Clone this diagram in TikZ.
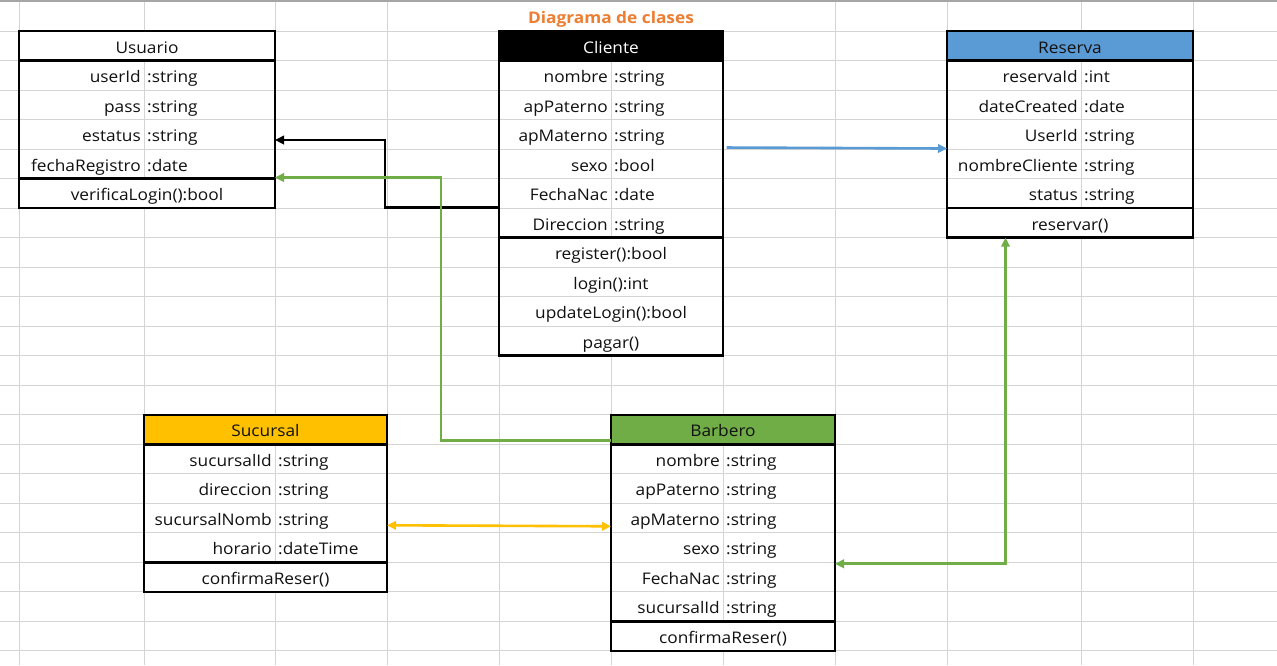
\documentclass[tikz,border=0pt]{standalone}
\usepackage{fontspec}
\setmainfont{Open Sans}[FakeStretch=1.08]
\usetikzlibrary{arrows.meta,calc}

\definecolor{gridc}{HTML}{D4D4D4}
\definecolor{topc}{HTML}{A6A6A6}
\definecolor{hdrblue}{HTML}{5B9BD5}
\definecolor{hdryellow}{HTML}{FFC000}
\definecolor{hdrgreen}{HTML}{70AD47}
\definecolor{titleorange}{HTML}{ED7D31}
\definecolor{inkc}{HTML}{111111}

% one spreadsheet row is 29.52 units high, row 0 starts at y = 1.5
\newcommand\rowy[1]{1.5+29.52*(#1)}

% UML class laid out on the sheet grid
% #1 name, #2 left x, #3 separator x, #4 right x, #5 header row,
% #6 (unused), #7 title, #8 attributes name/type, #9 methods
\newcommand\umlclass[9]{%
  \foreach \a [count=\n] in {#8} {\xdef\nattr{\n}}%
  \foreach \a [count=\n] in {#9} {\xdef\nmeth{\n}}%
  \pgfmathsetmacro\ytop{\rowy{#5}}%
  \pgfmathsetmacro\yhead{\rowy{#5+1}}%
  \pgfmathsetmacro\yattr{\rowy{#5+1+\nattr}}%
  \pgfmathsetmacro\ybot{\rowy{#5+1+\nattr+\nmeth}}%
  \pgfmathsetmacro\xmid{(#2+#4)/2}%
  \pgfmathsetmacro\bw{#4-#2}%
  \pgfmathsetmacro\bh{\ybot-\ytop}%
  \pgfmathtruncatemacro\ntot{\nattr+\nmeth-1}%
  \fill[white] (#2,\yhead) rectangle (#4,\ybot);
  \fill[#1 head] (#2,\ytop) rectangle (#4,\yhead);
  \foreach \r in {1,...,\ntot}
    \draw[gridline] (#2,{\rowy{#5+1+\r}}) -- (#4,{\rowy{#5+1+\r}});
  \draw[gridline] (#3,\yhead) -- (#3,\yattr);
  \draw[boxline] (#2,\yhead) -- (#4,\yhead);
  \draw[boxline] (#2,\yattr) -- (#4,\yattr);
  \node[classframe, minimum width=\bw pt, minimum height=\bh pt,
        anchor=north west] (#1) at (#2,\ytop) {};
  \node[celltext, #1 title, anchor=base] (#1-title) at (\xmid,{\yhead-7.5}) {#7};
  \foreach \nm/\ty [count=\i] in {#8} {
    \node[celltext, anchor=base east] (#1-n\i) at ({#3-3},{\rowy{#5+1+\i}-7.5}) {\nm};
    \node[celltext, anchor=base west] (#1-t\i) at ({#3+3},{\rowy{#5+1+\i}-7.5}) {\ty};
  }
  \foreach \m [count=\j] in {#9} {
    \node[celltext, anchor=base] (#1-m\j) at (\xmid,{\rowy{#5+1+\nattr+\j}-7.5}) {\m};
  }
}

\begin{document}
\begin{tikzpicture}[x=1pt,y=-1pt,
  gridline/.style={draw=gridc, line width=1pt},
  boxline/.style={draw=black, line width=2.5pt},
  classframe/.style={draw=black, line width=2.5pt, inner sep=0pt, outer sep=0pt},
  celltext/.style={font=\fontsize{16}{19}\selectfont, text=inkc, inner sep=0pt},
  usuario head/.style={fill=white},   usuario title/.style={},
  cliente head/.style={fill=black},   cliente title/.style={text=white},
  reserva head/.style={fill=hdrblue}, reserva title/.style={},
  sucursal head/.style={fill=hdryellow}, sucursal title/.style={},
  barbero head/.style={fill=hdrgreen}, barbero title/.style={},
  link/.style={line width=2.6pt},
  >={Triangle[length=9pt,width=8.5pt]},
]
\useasboundingbox (0,0) rectangle (1277,665);
\fill[white] (0,0) rectangle (1277,665);

% sheet grid (the heading row is merged from x=387 to x=835)
\foreach \k in {1,...,22}
  \draw[gridline] (0,{\rowy{\k}}) -- (1277,{\rowy{\k}});
\foreach \x in {19,144,275,387,835,947,1081,1193}
  \draw[gridline] (\x,1.5) -- (\x,665);
\foreach \x in {499,611,723}
  \draw[gridline] (\x,{\rowy{1}}) -- (\x,665);
\draw[draw=topc, line width=1.5pt] (0,1) -- (1277,1);

% heading
\node[font=\fontsize{16}{19}\selectfont\bfseries, text=titleorange, inner sep=0pt,
      anchor=base] (heading) at (611,23) {Diagrama de clases};

% classes
\umlclass{usuario}{19}{144}{275}{1}{}{Usuario}
  {userId/:string, pass/:string, estatus/:string, fechaRegistro/:date}
  {{verificaLogin():bool}}
\umlclass{cliente}{499}{611}{723}{1}{}{Cliente}
  {nombre/:string, apPaterno/:string, apMaterno/:string, sexo/:bool, FechaNac/:date, Direccion/:string}
  {{register():bool}, {login():int}, {updateLogin():bool}, {pagar()}}
\umlclass{reserva}{947}{1081}{1193}{1}{}{Reserva}
  {reservaId/:int, dateCreated/:date, UserId/:string, nombreCliente/:string, status/:string}
  {{reservar()}}
\umlclass{sucursal}{144}{275}{387}{14}{}{Sucursal}
  {sucursalId/:string, direccion/:string, sucursalNomb/:string, horario/:dateTime}
  {{confirmaReser()}}
\umlclass{barbero}{611}{723}{835}{14}{}{Barbero}
  {nombre/:string, apPaterno/:string, apMaterno/:string, sexo/:string, FechaNac/:string, sucursalId/:string}
  {{confirmaReser()}}

% associations
\draw[link, black, ->]
  ($(cliente.north west)+(0,176.5)$) -| ($(usuario.north east)+(110,109)$)
  -- ($(usuario.north east)+(0,109)$);
\draw[link, hdrgreen, ->]
  ($(barbero.north west)+(0,26)$) -| ($(usuario.north east)+(166,146.5)$)
  -- ($(usuario.north east)+(0,146.5)$);
\draw[link, hdrblue, ->]
  ($(cliente.north east)+(3.5,116.5)$) -- ($(reserva.north west)+(0,117.5)$);
\draw[link, hdryellow, <->]
  ($(sucursal.north east)+(0,110.5)$) -- ($(barbero.north west)+(0,111.5)$);
\draw[link, hdrgreen, <->]
  ($(barbero.north east)+(0,149)$) -| ($(reserva.south west)+(58.5,0)$);
\end{tikzpicture}
\end{document}
